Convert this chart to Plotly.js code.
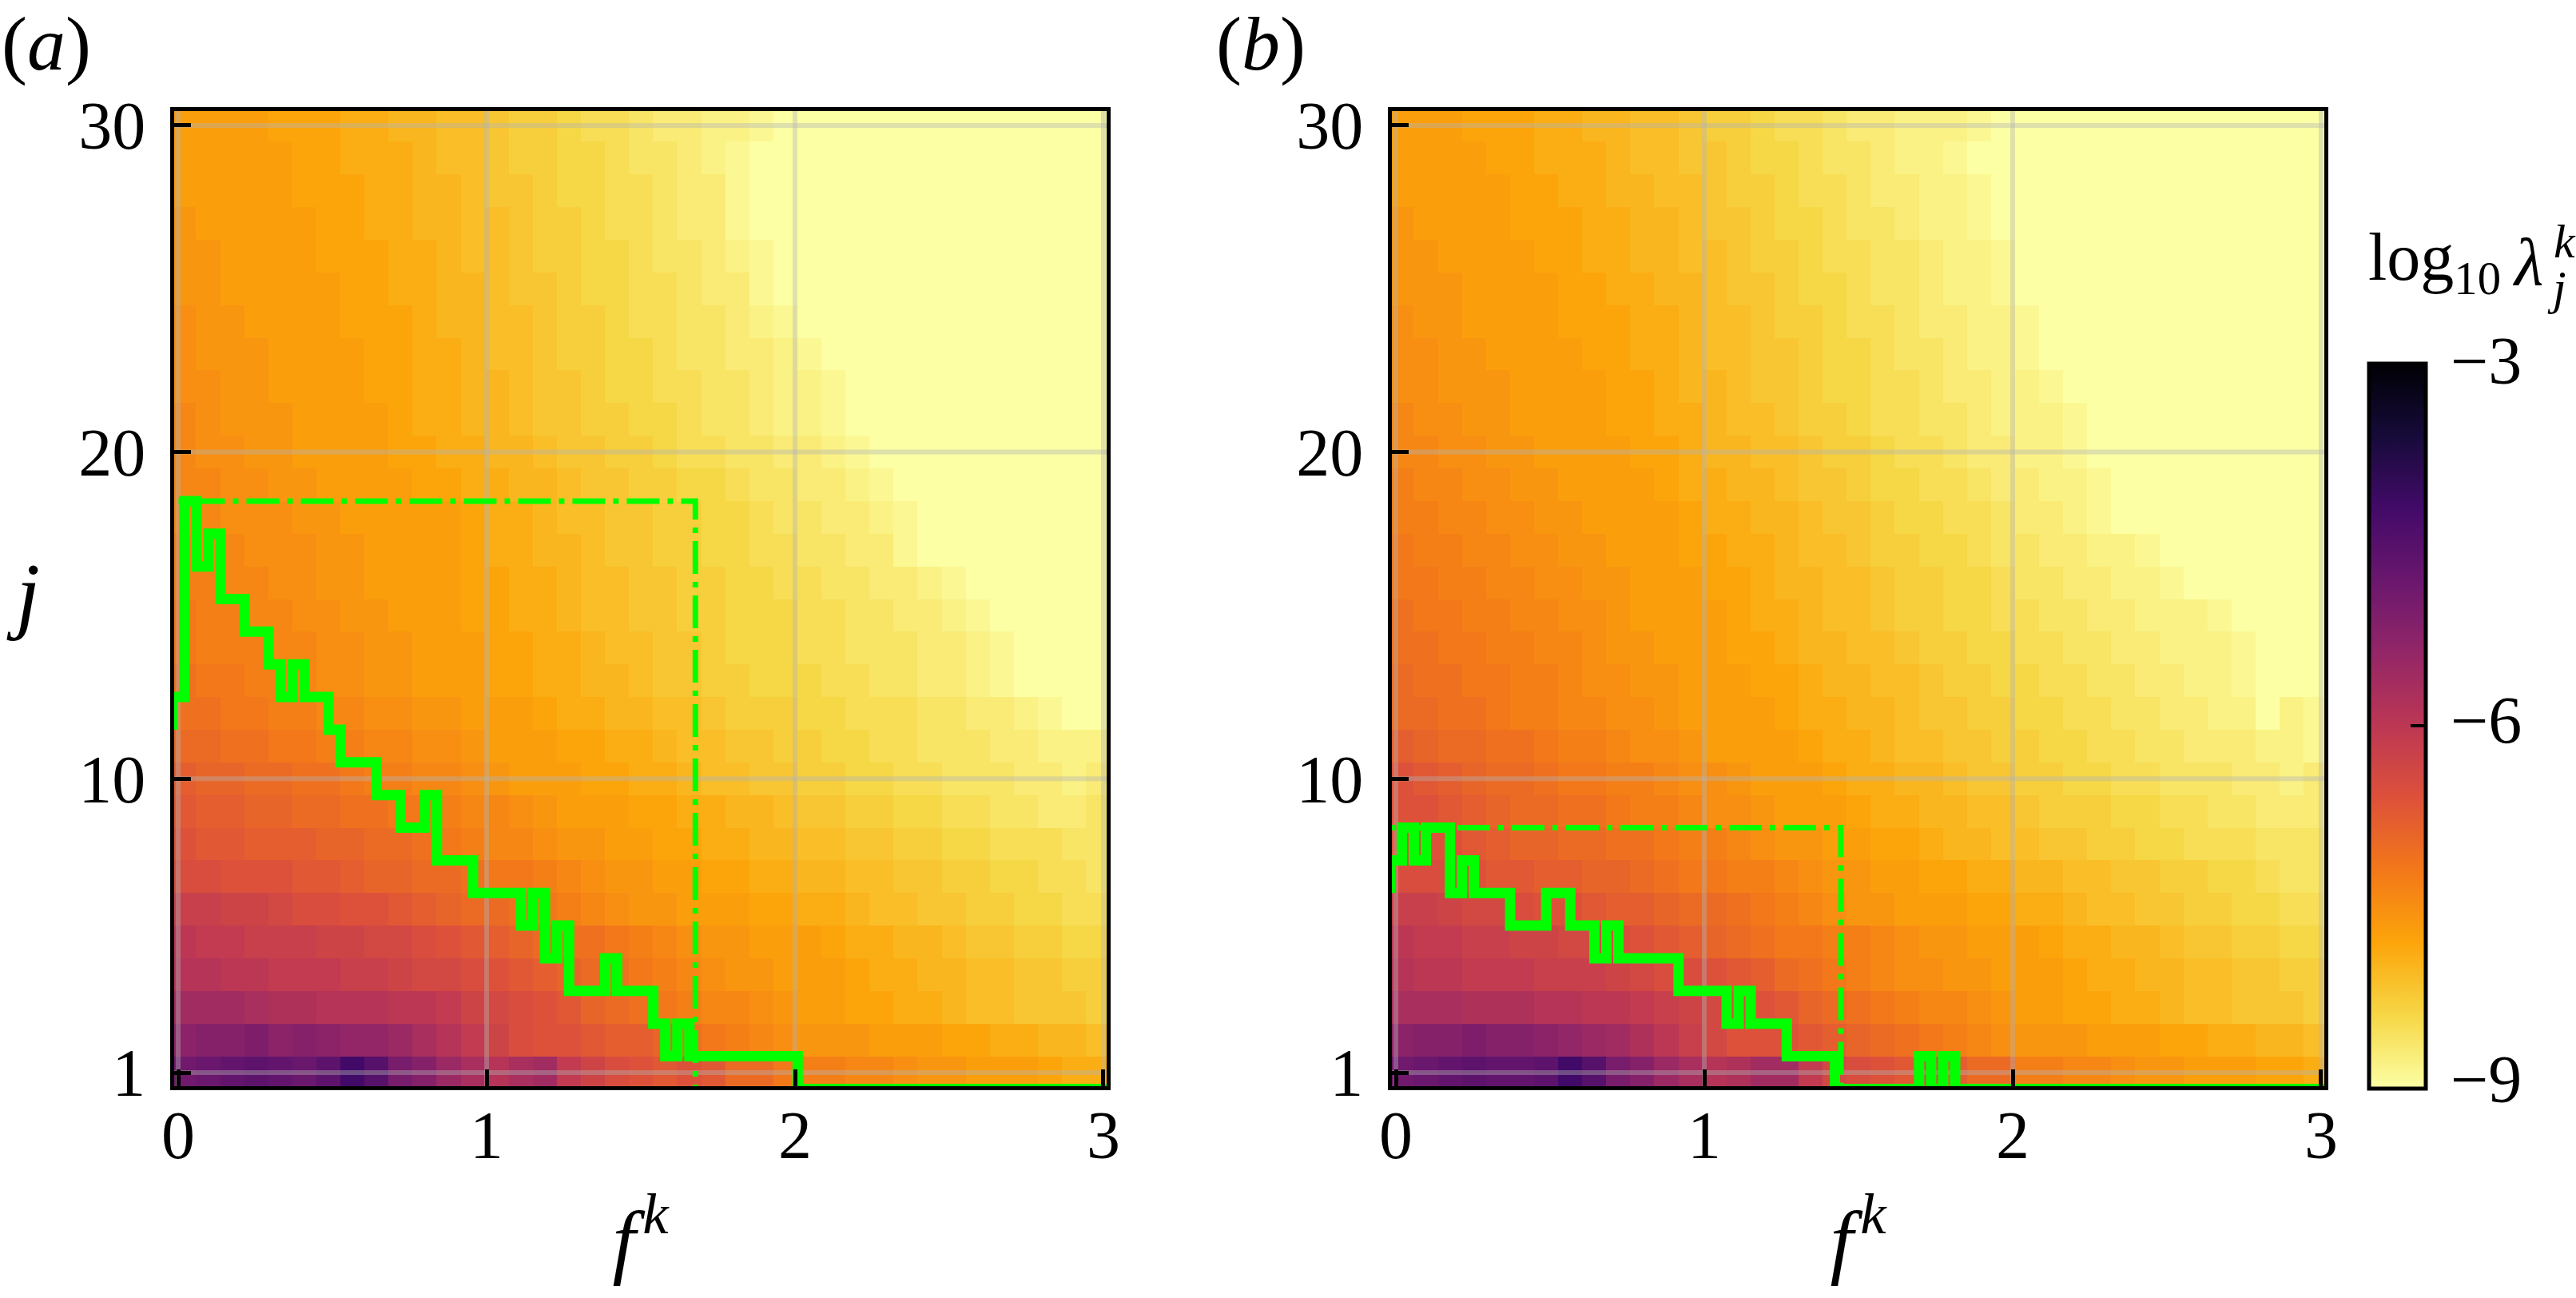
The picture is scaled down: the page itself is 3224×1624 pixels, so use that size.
<!DOCTYPE html>
<html>
<head>
<meta charset="utf-8">
<script src="https://cdn.plot.ly/plotly-3.0.1.min.js"></script>
<style>body { margin: 0; background: white; }</style>
</head>
<body>
<div id="chart" style="width:3224px;height:1624px"></div>
<script>
// f^k at the column centres, j at the row centres
var fCols = [0.019,0.097,0.175,0.253,0.331,0.409,0.487,0.565,0.643,0.721,0.799,0.877,0.955,1.033,1.111,1.189,1.267,1.345,1.423,1.501,
  1.579,1.657,1.735,1.813,1.891,1.969,2.047,2.125,2.203,2.281,2.359,2.437,2.515,2.593,2.671,2.749,2.827,2.905,2.983];
var jRows = [1,2,3,4,5,6,7,8,9,10,11,12,13,14,15,16,17,18,19,20,21,22,23,24,25,26,27,28,29,30];

// -10*log10(lambda), one line per j, j = 1 first
var lamA = [
  [49,48,47,46,47,48,46,42,45,50,52,55,57,59,57,56,61,63,65,66,67,66,67,70,70,72,73,73,74,74,75,76,76,77,77,77,78,79,79],
  [53,52,52,51,53,52,53,54,54,55,57,59,61,63,65,66,66,67,68,68,69,71,72,73,74,75,76,76,76,77,77,77,78,78,79,79,80,80,81],
  [56,56,56,57,58,58,59,59,59,60,60,61,63,64,65,66,67,69,70,71,72,73,74,74,75,76,77,77,78,78,79,79,80,81,81,82,82,82,83],
  [59,59,60,60,61,61,61,62,62,63,64,64,65,66,67,68,69,70,71,72,73,74,75,76,76,77,77,77,78,79,79,80,80,81,81,82,82,83,83],
  [60,61,61,62,62,62,63,63,64,64,65,66,67,68,69,70,71,71,72,73,74,75,76,76,77,77,77,78,79,79,80,80,81,82,82,83,83,84,84],
  [62,62,63,63,64,65,65,66,66,67,68,69,70,70,71,72,73,74,75,76,76,77,77,77,78,78,79,79,80,81,81,82,82,83,83,84,84,85,85],
  [65,65,66,66,66,67,67,68,69,69,70,70,71,72,72,73,74,75,76,76,77,77,78,78,79,79,80,80,81,81,82,82,83,83,84,84,85,85,86],
  [66,67,67,68,68,68,69,69,70,70,71,72,73,74,74,75,76,76,77,77,78,78,79,79,80,80,81,81,82,82,83,83,84,84,85,85,85,86,86],
  [67,68,68,69,69,70,70,71,71,72,72,73,74,74,75,76,77,77,77,78,78,79,79,80,80,81,82,82,83,83,84,84,85,85,86,86,87,87,86],
  [68,69,69,70,70,71,71,72,73,73,74,74,75,76,77,77,77,78,78,79,79,80,81,81,82,82,83,83,84,84,85,85,86,86,86,87,87,88,87],
  [70,70,71,71,72,72,73,73,74,74,75,75,76,77,77,77,78,78,79,79,80,81,81,82,82,83,83,84,84,85,85,86,86,86,87,87,88,88,88],
  [71,71,72,72,73,73,74,74,75,75,76,76,77,77,77,78,79,79,80,80,81,81,82,83,83,83,84,84,85,85,85,86,86,87,87,88,89,90,90],
  [71,72,72,73,73,74,75,75,76,76,77,77,77,78,78,79,79,80,80,81,82,82,83,83,84,84,84,85,85,86,86,87,87,88,89,90,90,90,90],
  [72,73,73,73,74,74,75,75,76,76,77,77,77,78,78,79,79,80,81,81,82,82,83,84,84,84,85,85,86,86,86,87,87,88,89,90,90,90,90],
  [72,73,73,74,74,75,75,76,76,77,77,77,78,78,79,79,80,81,81,82,82,83,83,84,84,84,85,85,86,86,87,87,88,89,90,90,90,90,90],
  [73,73,74,74,75,75,76,76,77,77,77,77,78,78,79,79,80,81,81,82,82,83,83,84,84,85,85,86,86,87,87,88,89,90,90,90,90,90,90],
  [73,74,74,75,75,75,76,76,77,77,77,77,78,79,79,80,80,81,82,82,83,83,84,84,85,85,86,86,87,87,89,90,90,90,90,90,90,90,90],
  [74,74,75,75,75,76,76,77,77,77,77,77,78,79,79,80,81,81,82,82,83,83,84,84,85,86,86,87,87,88,89,90,90,90,90,90,90,90,90],
  [74,74,75,75,76,76,77,77,77,77,78,78,79,79,80,80,81,82,82,83,83,84,84,85,86,86,87,87,88,89,90,90,90,90,90,90,90,90,90],
  [74,75,75,76,76,77,77,77,77,78,78,79,79,80,80,81,82,82,83,83,84,85,85,86,86,87,87,88,89,90,90,90,90,90,90,90,90,90,90],
  [74,75,76,76,76,77,77,77,77,78,79,79,80,80,81,82,82,83,83,84,84,85,86,86,87,88,88,89,90,90,90,90,90,90,90,90,90,90,90],
  [75,75,76,76,77,77,77,77,78,78,79,79,80,80,81,82,82,83,84,84,85,85,86,86,87,88,88,89,90,90,90,90,90,90,90,90,90,90,90],
  [75,76,76,76,77,77,77,77,78,78,79,79,80,81,81,82,83,83,84,84,85,86,86,87,87,88,89,90,90,90,90,90,90,90,90,90,90,90,90],
  [75,76,76,77,77,77,77,78,78,78,79,80,80,81,81,82,83,83,84,85,85,86,86,87,88,89,90,90,90,90,90,90,90,90,90,90,90,90,90],
  [76,76,77,77,77,77,77,78,78,79,79,80,80,81,82,82,83,84,84,85,85,86,87,87,89,90,90,90,90,90,90,90,90,90,90,90,90,90,90],
  [76,76,77,77,77,77,78,78,78,79,79,80,81,81,82,83,83,84,84,85,86,86,87,88,89,90,90,90,90,90,90,90,90,90,90,90,90,90,90],
  [76,77,77,77,77,77,78,78,79,79,80,80,81,81,82,83,83,84,85,85,86,87,87,89,90,90,90,90,90,90,90,90,90,90,90,90,90,90,90],
  [77,77,77,77,77,78,78,78,79,79,80,80,81,82,82,83,84,84,85,85,86,87,87,89,90,90,90,90,90,90,90,90,90,90,90,90,90,90,90],
  [77,77,77,77,77,78,78,79,79,79,80,81,81,82,83,83,84,84,85,86,86,87,88,89,90,90,90,90,90,90,90,90,90,90,90,90,90,90,90],
  [77,77,77,77,78,78,78,79,79,80,80,81,81,82,83,83,84,85,85,86,87,87,88,88,89,90,90,90,90,90,90,90,90,90,90,90,90,90,90]
];

var lamB = [
  [49,48,47,46,47,47,46,42,45,50,52,55,57,59,58,56,56,61,64,65,66,67,65,68,70,70,73,73,74,74,75,76,76,77,77,77,78,78,79],
  [53,52,52,51,52,52,53,54,55,56,58,60,62,64,66,66,66,67,68,69,70,71,72,73,74,75,76,76,76,77,77,77,78,78,79,79,80,80,81],
  [57,57,57,58,58,58,59,59,60,60,61,62,63,64,65,66,67,69,70,71,72,73,74,74,75,76,77,77,78,78,79,79,80,81,81,82,82,82,83],
  [59,60,60,61,61,61,62,62,62,63,64,65,65,66,67,68,70,71,72,73,74,75,75,76,76,77,77,77,78,79,79,80,80,81,81,82,82,83,83],
  [60,61,61,62,62,63,63,64,64,65,66,67,68,69,70,71,72,72,73,73,74,75,76,76,77,77,77,78,79,79,80,80,81,82,82,83,83,84,84],
  [62,62,63,64,64,65,66,66,67,68,68,69,70,70,71,72,73,74,75,76,76,77,77,77,78,78,79,79,80,81,81,82,82,83,83,84,84,85,85],
  [65,65,65,66,67,67,68,68,69,69,70,71,72,72,73,73,74,75,76,76,77,77,78,78,79,79,80,80,81,81,82,82,83,83,84,84,85,86,86],
  [66,66,66,67,68,69,69,70,70,71,71,72,73,73,74,75,76,76,77,77,78,78,79,80,80,81,81,82,82,83,83,84,84,85,85,85,86,86,86],
  [66,66,67,68,69,70,70,71,71,72,73,73,74,75,75,76,77,77,77,78,79,79,80,80,81,81,82,83,83,83,84,84,85,85,86,86,87,87,87],
  [66,67,68,69,70,70,71,72,72,73,73,74,75,75,76,77,77,77,78,79,79,80,80,81,82,82,83,83,84,84,85,85,86,86,86,87,87,88,87],
  [68,69,70,70,71,71,72,73,73,74,75,75,76,77,77,77,77,78,79,79,80,81,81,82,82,83,83,84,84,85,85,86,86,87,87,87,88,88,89],
  [70,70,71,71,72,73,73,74,74,75,75,76,77,77,77,77,78,79,79,80,80,81,82,82,83,83,84,84,85,85,86,86,87,87,88,88,90,88,89],
  [70,71,71,72,72,73,73,74,75,75,76,76,77,77,77,78,78,79,80,80,81,81,82,83,83,84,84,85,85,86,86,87,87,88,88,89,90,90,90],
  [71,71,72,72,73,73,74,74,75,76,76,77,77,77,78,78,79,80,80,81,81,82,83,83,84,84,85,85,86,86,87,87,88,88,88,89,90,90,90],
  [71,72,72,73,73,74,74,75,75,76,77,77,77,77,78,79,79,80,81,81,82,83,83,84,84,85,85,86,86,87,87,88,88,88,89,90,90,90,90],
  [72,72,73,73,74,74,75,75,76,76,77,77,77,78,78,79,80,80,81,81,82,83,83,84,84,85,86,86,87,87,88,88,89,90,90,90,90,90,90],
  [72,73,73,74,74,75,75,76,76,77,77,77,78,78,79,79,80,81,81,82,83,83,84,84,85,86,86,87,87,88,88,89,90,90,90,90,90,90,90],
  [73,73,74,74,75,75,76,76,77,77,77,77,78,79,79,80,80,81,82,82,83,84,84,85,85,86,87,87,88,89,90,90,90,90,90,90,90,90,90],
  [73,74,74,75,75,76,76,77,77,77,77,78,79,79,80,80,81,82,82,83,84,84,85,85,86,87,87,88,88,89,90,90,90,90,90,90,90,90,90],
  [74,74,75,75,76,76,77,77,77,77,78,78,79,80,80,81,81,82,83,83,84,85,85,86,87,87,88,88,89,90,90,90,90,90,90,90,90,90,90],
  [74,75,75,76,76,77,77,77,77,78,78,79,79,80,81,81,82,83,83,84,85,85,86,86,87,88,88,88,89,90,90,90,90,90,90,90,90,90,90],
  [75,75,76,76,76,77,77,77,77,78,78,79,80,80,81,82,82,83,84,84,85,85,86,87,87,88,88,89,90,90,90,90,90,90,90,90,90,90,90],
  [75,75,76,76,77,77,77,77,78,78,79,79,80,81,81,82,82,83,84,84,85,86,86,87,88,88,89,90,90,90,90,90,90,90,90,90,90,90,90],
  [75,76,76,77,77,77,77,78,78,78,79,79,80,81,81,82,83,83,84,85,85,86,87,87,88,88,89,90,90,90,90,90,90,90,90,90,90,90,90],
  [76,76,76,77,77,77,77,78,78,79,79,80,80,81,82,82,83,84,84,85,86,86,87,88,88,89,90,90,90,90,90,90,90,90,90,90,90,90,90],
  [76,76,77,77,77,77,78,78,79,79,80,80,81,81,82,83,83,84,85,85,86,86,87,88,88,89,90,90,90,90,90,90,90,90,90,90,90,90,90],
  [76,77,77,77,77,78,78,78,79,79,80,80,81,82,82,83,84,84,85,86,86,87,88,88,89,90,90,90,90,90,90,90,90,90,90,90,90,90,90],
  [77,77,77,77,77,78,78,79,79,80,80,81,81,82,83,83,84,85,85,86,87,87,88,88,89,90,90,90,90,90,90,90,90,90,90,90,90,90,90],
  [77,77,77,77,78,78,79,79,79,80,81,81,82,82,83,84,84,85,86,86,87,88,88,89,90,90,90,90,90,90,90,90,90,90,90,90,90,90,90],
  [77,77,77,78,78,78,79,79,80,80,81,81,82,83,83,84,85,85,86,87,87,88,88,88,89,90,90,90,90,90,90,90,90,90,90,90,90,90,90]
];

// green staircase, drawn with shape hv
var stairFA = [-0.0195,-0.0195,0.0195,0.0585,0.0975,0.1365,0.2145,0.2925,0.3315,0.3705,0.4095,0.4875,0.5265,0.6435,0.7215,0.8,0.839,0.956,1.1115,1.1505,1.1895,1.2285,1.2675,1.3845,1.4235,1.5405,1.5795,1.6185,1.6575,2.0085,3.03];
var stairJA = [11.5,12.5,18.5,16.5,17.5,15.5,14.5,13.5,12.5,13.5,12.5,11.5,10.5,9.5,8.5,9.5,7.5,6.5,5.5,6.5,4.5,5.5,3.5,4.5,3.5,2.5,1.5,2.5,1.5,0.5,0.5];
var stairFB = [-0.0195,-0.0195,0.0195,0.0585,0.0975,0.1755,0.2145,0.2535,0.3705,0.4875,0.5655,0.6435,0.6825,0.7215,0.9165,1.0725,1.1115,1.1505,1.2675,1.4235,1.6965,1.7355,1.7745,1.8135,3.03];
var stairJB = [6.5,7.5,8.5,7.5,8.5,6.5,7.5,6.5,5.5,6.5,5.5,4.5,5.5,4.5,3.5,2.5,3.5,2.5,1.5,0.5,1.5,0.5,1.5,0.5,0.5];

// dash-dot box
var boxFA = [-0.131,1.677,1.677];
var boxJA = [18.5,18.5,0.5];
var boxFB = [-0.153,1.443,1.443];
var boxJB = [8.5,8.5,0.5];

var fTicks = [0,1,2,3];
var jTicks = [1,10,20,30];
var cbTicks = [-3,-6,-9];

var inferno_r = [
  [0,'#fcffa4'],[0.1,'#f6d746'],[0.2,'#fca50a'],[0.3,'#f37819'],[0.4,'#dd513a'],[0.5,'#bc3754'],
  [0.6,'#932667'],[0.7,'#6a176e'],[0.8,'#420a68'],[0.9,'#160b39'],[1,'#000004']
];

var W = 3224, H = 1624;
var serif = 'Liberation Serif, Times New Roman, serif';
var xRange = [-0.013, 3.0104];
var yRange = [0.584, 30.44];

function toLog(rows) {
  return rows.map(function(r) {
    return r.map(function(v) { return -v / 10; });
  });
}

function panelTraces(rows, stairF, stairJ, boxF, boxJ, xa, ya, first) {
  var hm = {
    type: 'heatmap', x: fCols, y: jRows, z: toLog(rows), xaxis: xa, yaxis: ya,
    zmin: -9, zmax: -3, colorscale: inferno_r, showscale: first, hoverinfo: 'skip'
  };
  if (first) {
    hm.colorbar = {
      xref: 'paper', yref: 'paper',
      x: 2964.5 / W, xanchor: 'left', xpad: 0,
      y: 1 - 1361.5 / H, yanchor: 'bottom', ypad: 0,
      len: 907, lenmode: 'pixels', thickness: 71, thicknessmode: 'pixels',
      outlinewidth: 5, outlinecolor: 'black', borderwidth: 0,
      ticks: 'inside', ticklen: 21, tickwidth: 4, tickcolor: 'black',
      tickmode: 'array', tickvals: cbTicks, showticklabels: false
    };
  }
  var out = [hm];
  // the grid sits over the heatmap, so it is drawn as lines and not with showgrid
  fTicks.forEach(function(f) {
    out.push({ type: 'scatter', mode: 'lines', x: [f, f], y: yRange, xaxis: xa, yaxis: ya,
      line: { color: 'rgba(180,180,180,0.4)', width: 6 }, hoverinfo: 'skip', showlegend: false });
  });
  jTicks.forEach(function(j) {
    out.push({ type: 'scatter', mode: 'lines', x: xRange, y: [j, j], xaxis: xa, yaxis: ya,
      line: { color: 'rgba(180,180,180,0.4)', width: 6 }, hoverinfo: 'skip', showlegend: false });
  });
  out.push({ type: 'scatter', mode: 'lines', x: boxF, y: boxJ, xaxis: xa, yaxis: ya,
    line: { color: '#00ff00', width: 7, dash: '41px,10px,7px,10px' }, hoverinfo: 'skip', showlegend: false });
  out.push({ type: 'scatter', mode: 'lines', x: stairF, y: stairJ, xaxis: xa, yaxis: ya,
    line: { color: '#00ff00', width: 13, shape: 'hv' }, hoverinfo: 'skip', showlegend: false });
  return out;
}

function xAxis(left, anchor) {
  return {
    domain: [left / W, (left + 1167) / W], range: xRange, anchor: anchor,
    tickmode: 'array', tickvals: fTicks, ticks: 'inside', ticklen: 21, tickwidth: 5, tickcolor: 'black',
    tickfont: { family: serif, size: 84, color: 'black' }, ticklabelstandoff: -16,
    showgrid: false, zeroline: false, showline: true, linewidth: 5, linecolor: 'black', mirror: true,
    title: { text: '<i>f</i>\u200a<sup><i>k</i></sup>', font: { family: serif, size: 104, color: 'black' }, standoff: 50 }
  };
}

function yAxis(anchor) {
  return {
    domain: [1 - 1359 / H, 1 - 139 / H], range: yRange, anchor: anchor,
    tickmode: 'array', tickvals: jTicks, ticks: 'inside', ticklen: 21, tickwidth: 5, tickcolor: 'black',
    tickfont: { family: serif, size: 84, color: 'black' }, ticklabelstandoff: 14,
    showgrid: false, zeroline: false, showline: true, linewidth: 5, linecolor: 'black', mirror: true
  };
}

function note(text, px, py, size) {
  return { text: text, xref: 'paper', yref: 'paper', x: px / W, y: 1 - py / H, xanchor: 'left', yanchor: 'middle',
    showarrow: false, font: { family: serif, size: size, color: 'black' } };
}

var data = panelTraces(lamA, stairFA, stairJA, boxFA, boxJA, 'x', 'y', true)
  .concat(panelTraces(lamB, stairFB, stairJB, boxFB, boxJB, 'x2', 'y2', false));

var layout = {
  width: W, height: H, autosize: false, showlegend: false,
  margin: { l: 0, r: 0, t: 0, b: 0, pad: 0 },
  paper_bgcolor: 'white', plot_bgcolor: 'white',
  xaxis: xAxis(218, 'y'), yaxis: yAxis('x'),
  xaxis2: xAxis(1742, 'y2'), yaxis2: yAxis('x2'),
  annotations: [
    note('(<i>a</i>)', 0, 54, 96),
    note('(<i>b</i>)', 1520, 54, 96),
    note('<i>j</i>', 6, 742, 108),
    note('log<sub>10</sub>', 2962, 328, 84),
    note('<i>\u03bb</i>', 3142, 328, 84),
    note('<i>k</i>', 3194, 302, 60),
    note('<i>j</i>', 3186, 360, 60),
    note('\u22123', 3065, 452, 84),
    note('\u22126', 3065, 902, 84),
    note('\u22129', 3065, 1350, 84)
  ]
};

Plotly.newPlot('chart', data, layout, { displayModeBar: false, staticPlot: true });
</script>
</body>
</html>
